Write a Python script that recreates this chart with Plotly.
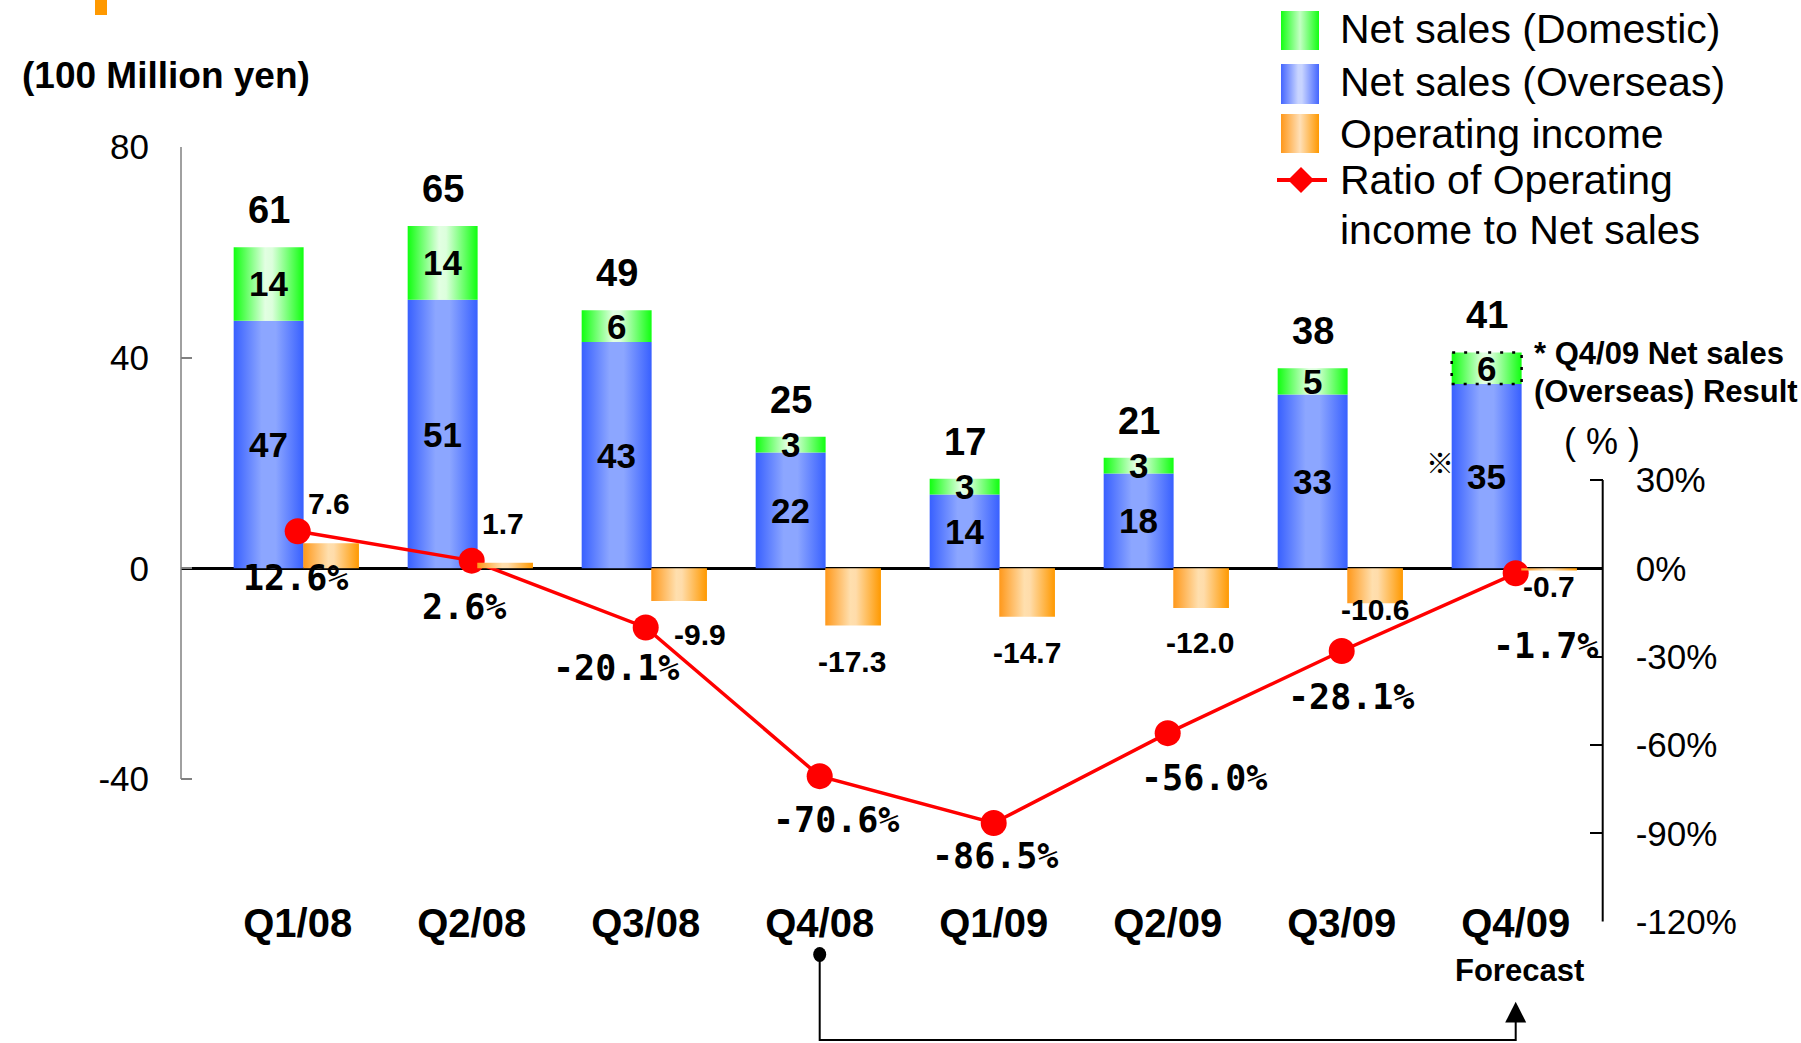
import plotly.graph_objects as go

# ---------------- data ----------------
quarters = ["Q1/08", "Q2/08", "Q3/08", "Q4/08", "Q1/09", "Q2/09", "Q3/09", "Q4/09"]
overseas = [47, 51, 43, 22, 14, 18, 33, 35]
domestic = [14, 14, 6, 3, 3, 3, 5, 6]
totals = [61, 65, 49, 25, 17, 21, 38, 41]
op_income = [7.6, 1.7, -9.9, -17.3, -14.7, -12.0, -10.6, -0.7]
ratio = [12.6, 2.6, -20.1, -70.6, -86.5, -56.0, -28.1, -1.7]
left_ticks = [80, 40, 0, -40]
right_ticks = [30, 0, -30, -60, -90, -120]
forecast_index = 7

# ---------------- geometry / styles ----------------
W, H = 1801, 1043
PL, PR, PT, PB = 181.0, 1602.7, 147.1, 922.5
Y0 = 568.3                      # pixel row of the zero line
LEFT_PX = (Y0 - PT) / 80.0      # px per 100M yen (left axis)
RIGHT_PX = (PB - Y0) / 120.3    # px per % (right axis)
ORANGE_PX = 3.3                 # px per 100M yen for operating income
CAT_PX = 174.0
XR0 = (PL - 297.7) / CAT_PX
XR1 = XR0 + (PR - PL) / CAT_PX

BLUE_OFF, BLUE_W = -0.368, 0.402
OR_OFF, OR_W = 0.032, 0.32

def py(Y):
    return (H - Y) / H

BLUE_CS = [[0, "#3860ff"], [0.4, "#8ca6ff"], [0.6, "#8ca6ff"], [1, "#3860ff"]]
GREEN_CS = [[0, "#10ff10"], [0.45, "#e2ffe2"], [0.55, "#dcffdc"], [1, "#10ff10"]]
ORANGE_CS = [[0, "#ff981a"], [0.45, "#ffdfae"], [0.55, "#ffdcaa"], [1, "#ff9900"]]
LEG_BLUE_CS = [[0, "#4466ff"], [0.45, "#c8d4ff"], [0.55, "#c8d4ff"], [1, "#4466ff"]]
LEG_GREEN_CS = [[0, "#14ff14"], [0.5, "#c4ffc4"], [1, "#14ff14"]]
LEG_ORANGE_CS = [[0, "#ff981a"], [0.5, "#ffe0b8"], [1, "#ff9900"]]

SANS = "Liberation Sans, Arial, sans-serif"
MONO = "DejaVu Sans Mono, Liberation Mono, monospace"

fig = go.Figure()

def rect(x0, x1, y0, y1, cs, xaxis="x", yaxis="y"):
    return go.Scatter(
        x=[x0, x1, x1, x0, x0], y=[y0, y0, y1, y1, y0],
        mode="lines", fill="toself", line=dict(width=0),
        fillgradient=dict(type="horizontal", colorscale=cs),
        hoverinfo="skip", showlegend=False, xaxis=xaxis, yaxis=yaxis)

# stacked net-sales bars
for i in range(len(quarters)):
    x0 = i + BLUE_OFF
    x1 = x0 + BLUE_W
    fig.add_trace(rect(x0, x1, 0, overseas[i], BLUE_CS))
    fig.add_trace(rect(x0, x1, overseas[i], overseas[i] + domestic[i], GREEN_CS))

# forecast outline (dashed) on the domestic part of Q4/09
i = forecast_index
fig.add_trace(go.Scatter(
    x=[i + BLUE_OFF, i + BLUE_OFF + BLUE_W, i + BLUE_OFF + BLUE_W, i + BLUE_OFF, i + BLUE_OFF],
    y=[overseas[i], overseas[i], overseas[i] + domestic[i], overseas[i] + domestic[i], overseas[i]],
    mode="lines", line=dict(color="black", width=2.5, dash="3px,9px"),
    hoverinfo="skip", showlegend=False))

# operating income bars (own hidden scale)
for i in range(len(quarters)):
    x0 = i + OR_OFF
    fig.add_trace(rect(x0, x0 + OR_W, 0, op_income[i], ORANGE_CS, yaxis="y3"))

# ratio line
fig.add_trace(go.Scatter(
    x=list(range(len(quarters))), y=ratio, yaxis="y2", mode="lines+markers",
    line=dict(color="#ff0000", width=3.5),
    marker=dict(symbol="circle", size=26, color="#ff0000"),
    hoverinfo="skip", showlegend=False))

# ---------------- custom legend (helper pixel axes) ----------------
fig.add_trace(rect(1281, 1319, 11, 50, LEG_GREEN_CS, xaxis="x2", yaxis="y4"))
fig.add_trace(rect(1281, 1319, 64, 104, LEG_BLUE_CS, xaxis="x2", yaxis="y4"))
fig.add_trace(rect(1281, 1319, 114, 153, LEG_ORANGE_CS, xaxis="x2", yaxis="y4"))
fig.add_trace(go.Scatter(x=[1277, 1327], y=[180, 180], mode="lines",
                         line=dict(color="#ff0000", width=4), xaxis="x2", yaxis="y4",
                         hoverinfo="skip", showlegend=False))
fig.add_trace(go.Scatter(x=[1301], y=[180], mode="markers",
                         marker=dict(symbol="diamond", size=20, color="#ff0000"),
                         xaxis="x2", yaxis="y4", hoverinfo="skip", showlegend=False))

ann = []
leg_font = dict(family=SANS, size=41, color="black")
for txt, yc in [("Net sales (Domestic)", 29), ("Net sales (Overseas)", 82.5),
                ("Operating income", 134), ("Ratio of Operating", 180),
                ("income to Net sales", 230)]:
    ann.append(dict(text=txt, xref="paper", yref="paper", x=1338 / W, y=py(yc),
                    xanchor="left", yanchor="middle", showarrow=False, font=leg_font))

# ---------------- data labels ----------------
bold = lambda s: dict(family=SANS, size=s, color="black", weight="bold")
for i in range(len(quarters)):
    xc = i + BLUE_OFF + BLUE_W / 2
    ann.append(dict(text=str(totals[i]), x=xc, y=overseas[i] + domestic[i], xref="x", yref="y",
                    yshift=37, showarrow=False, font=bold(38), yanchor="middle"))
    ann.append(dict(text=str(overseas[i]), x=xc, y=overseas[i] / 2, xref="x", yref="y",
                    showarrow=False, font=bold(35), yanchor="middle"))
    ann.append(dict(text=str(domestic[i]), x=xc, y=overseas[i] + domestic[i] / 2, xref="x", yref="y",
                    showarrow=False, font=bold(35), yanchor="middle"))

or_shift = [(-2, 40), (-2, 39), (21, -34), (-1, -36), (0, -36), (-1, -35), (0, -6), (0, -16)]
for i in range(len(quarters)):
    ann.append(dict(text=f"{op_income[i]:.1f}", x=i + OR_OFF + OR_W / 2, y=op_income[i],
                    xref="x", yref="y3", xshift=or_shift[i][0], yshift=or_shift[i][1],
                    showarrow=False, font=bold(30), yanchor="middle"))

ratio_shift = [(-2, -47), (-8, -46), (-30, -41), (16, -44), (1, -33), (36, -45), (9, -46), (30, -73)]
for i in range(len(quarters)):
    ann.append(dict(text=f"{ratio[i]:.1f}%", x=i, y=ratio[i], xref="x", yref="y2",
                    xshift=ratio_shift[i][0], yshift=ratio_shift[i][1], showarrow=False,
                    font=dict(family=MONO, size=35, color="black", weight="bold"),
                    yanchor="middle"))

# other texts
ann.append(dict(text="(100 Million yen)", xref="paper", yref="paper", x=19.5 / W, y=py(75.8),
                xanchor="left", yanchor="middle", showarrow=False, font=bold(37)))
ann.append(dict(text="Forecast", xref="x", yref="paper", x=forecast_index, xshift=4, y=py(970),
                yanchor="middle", showarrow=False, font=bold(31)))
ann.append(dict(text="* Q4/09 Net sales", xref="paper", yref="paper", x=1531.7 / W, y=py(353),
                xanchor="left", yanchor="middle", showarrow=False, font=bold(31)))
ann.append(dict(text="(Overseas) Result", xref="paper", yref="paper", x=1531.7 / W, y=py(391.7),
                xanchor="left", yanchor="middle", showarrow=False, font=bold(31)))
ann.append(dict(text="( % )", xref="paper", yref="paper", x=1601.7 / W, y=py(441.7),
                xanchor="center", yanchor="middle", showarrow=False,
                font=dict(family=SANS, size=36, color="black")))
ann.append(dict(text="※", xref="paper", yref="paper", x=1440 / W, y=py(461.7),
                xanchor="center", yanchor="middle", showarrow=False,
                font=dict(family="Noto Sans CJK JP", size=28, color="black")))

# ---------------- shapes ----------------
shapes = [
    # left axis line
    dict(type="line", xref="paper", yref="y", x0=PL / W, x1=PL / W, y0=-40, y1=80,
         line=dict(color="#808080", width=1.5)),
    # right axis line
    dict(type="line", xref="paper", yref="y2", x0=PR / W, x1=PR / W, y0=-120, y1=30,
         line=dict(color="black", width=2)),
    # orange mark top-left
    dict(type="rect", xref="paper", yref="paper", x0=95 / W, x1=107 / W, y0=py(15), y1=py(0),
         fillcolor="#ff9900", line=dict(width=0)),
    # bracket arrow Q4/08 -> Q4/09 forecast
    dict(type="path", xref="x", yref="paper",
         path=f"M 3,{py(957)} L 3,{py(1040)} L {forecast_index},{py(1040)} L {forecast_index},{py(1020)}",
         line=dict(color="black", width=2)),
    dict(type="circle", xref="x", yref="paper", x0=3 - 6.5 / CAT_PX, x1=3 + 6.5 / CAT_PX,
         y0=py(962), y1=py(947), fillcolor="black", line=dict(width=0)),
    dict(type="path", xref="x", yref="paper",
         path=f"M {forecast_index - 10.5 / CAT_PX},{py(1022.5)} L {forecast_index + 10.5 / CAT_PX},{py(1022.5)} "
              f"L {forecast_index},{py(1001.7)} Z",
         fillcolor="black", line=dict(width=0)),
]

# ---------------- layout ----------------
fig.update_layout(
    width=W, height=H,
    margin=dict(l=0, r=0, t=0, b=0, autoexpand=False),
    paper_bgcolor="white", plot_bgcolor="rgba(0,0,0,0)",
    showlegend=False,
    xaxis=dict(domain=[PL / W, PR / W], range=[XR0, XR1], tickvals=list(range(len(quarters))),
               ticktext=quarters, showgrid=False, zeroline=False, showline=False, ticks="",
               anchor="free", position=py(895.5),
               tickfont=dict(family=SANS, size=40, color="black", weight="bold")),
    yaxis=dict(domain=[py(PB), py(PT)], range=[-(PB - Y0) / LEFT_PX, (Y0 - PT) / LEFT_PX],
               tickvals=left_ticks, ticktext=[str(v) for v in left_ticks],
               showgrid=False, zeroline=True, zerolinecolor="black", zerolinewidth=2.5,
               showline=False, ticks="inside", ticklen=11, tickwidth=1.5, tickcolor="#808080",
               ticklabelstandoff=31,
               tickfont=dict(family=SANS, size=35, color="black")),
    yaxis2=dict(overlaying="y", side="right", anchor="x",
                range=[-(PB - Y0) / RIGHT_PX, (Y0 - PT) / RIGHT_PX],
                tickvals=right_ticks, ticktext=[f"{v}%" for v in right_ticks],
                showgrid=False, zeroline=False, showline=False, ticks="inside", ticklen=13,
                tickwidth=2, tickcolor="black", ticklabelstandoff=32,
                tickfont=dict(family=SANS, size=35, color="black")),
    yaxis3=dict(overlaying="y", visible=False,
                range=[-(PB - Y0) / ORANGE_PX, (Y0 - PT) / ORANGE_PX]),
    xaxis2=dict(domain=[0, 1], range=[0, W], visible=False, anchor="y4"),
    yaxis4=dict(domain=[0, 1], range=[H, 0], visible=False, anchor="x2"),
    annotations=ann,
    shapes=shapes,
)

fig.write_html("out.html", config={"displayModeBar": False},
               post_script="document.body.style.margin='0px';")
